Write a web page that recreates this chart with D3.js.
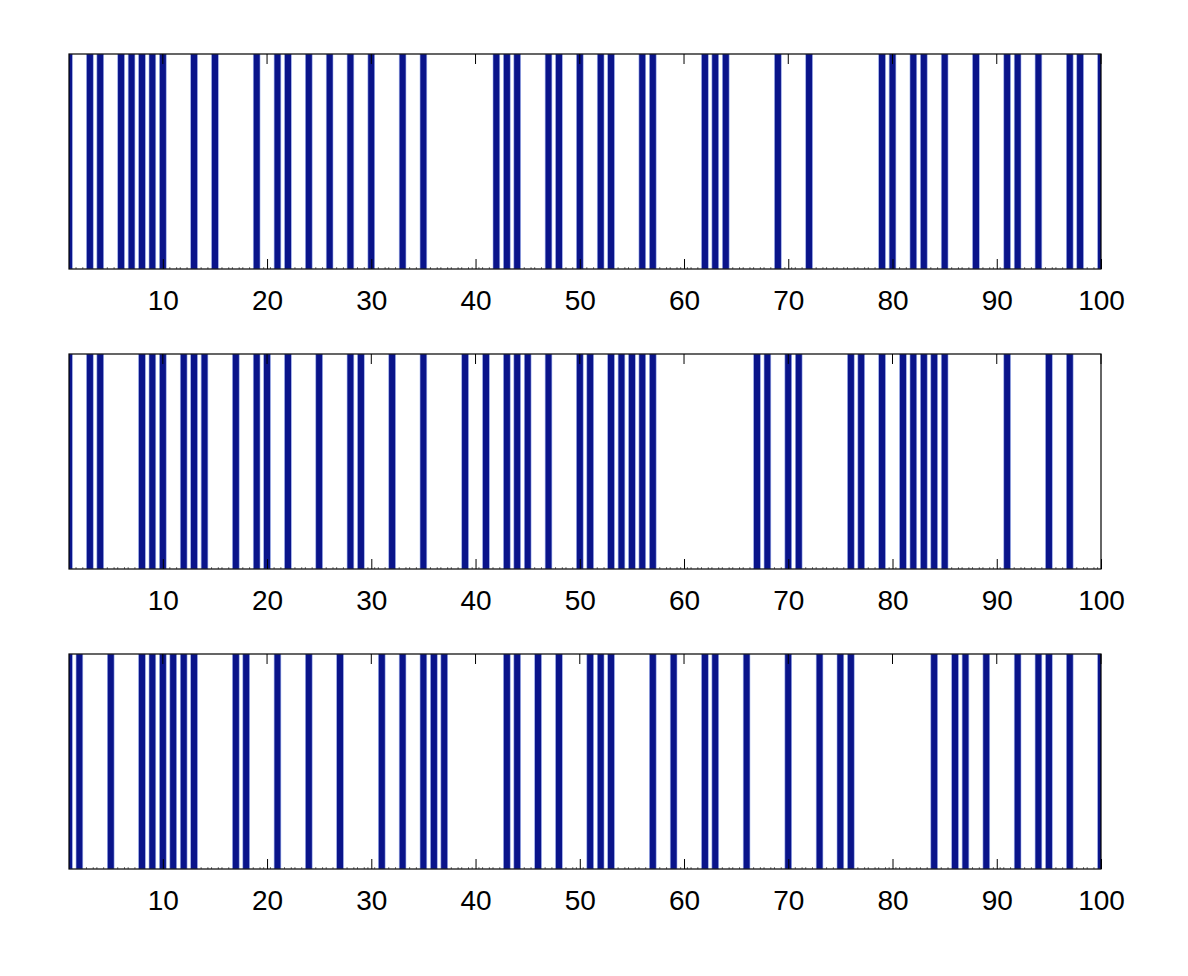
<!DOCTYPE html>
<head>
  <meta charset="utf-8">
  <script src="https://cdn.jsdelivr.net/npm/d3@7"></script>
  <style>
    body { margin:0; background:#fff; }
    text { font-family: "Liberation Sans", Arial, sans-serif; }
  </style>
</head>
<body>
<script>
// positions (1..100) where the series is 1, everything else is 0
var onTop    = [1,3,4,6,7,8,9,10,13,15,19,21,22,24,26,28,30,33,35,42,43,44,47,48,50,52,53,56,57,62,63,64,69,72,79,80,82,83,85,88,91,92,94,97,98,100];
var onMiddle = [1,3,4,8,9,10,12,13,14,17,19,20,22,25,28,29,32,35,39,41,43,44,45,47,50,51,53,54,55,56,57,67,68,70,71,76,77,79,81,82,83,84,85,91,95,97];
var onBottom = [1,2,5,8,9,10,11,12,13,17,18,21,24,27,31,33,35,36,37,43,44,46,48,51,52,53,57,59,62,63,66,70,73,75,76,84,86,87,89,92,94,95,97,100];
var xTicks = [10,20,30,40,50,60,70,80,90,100];

var width = 1188, height = 976;
var svg = d3.select("body").append("svg")
  .attr("width", width)
  .attr("height", height);

var left = 69, right = 1101;
var panelTops = [54, 354, 654];
var panelH = 215;
var barW = 0.65;

var x = d3.scaleLinear().domain([1, 100]).range([left, right]);

function toSeries(on) {
  var s = [];
  for (var i = 1; i <= 100; i++) s.push({x: i, y: on.indexOf(i) >= 0 ? 1 : 0});
  return s;
}

[onTop, onMiddle, onBottom].forEach(function(on, k) {
  var top = panelTops[k];
  var y = d3.scaleLinear().domain([0, 1]).range([top + panelH, top]);
  var data = toSeries(on);

  var g = svg.append("g");
  svg.append("clipPath").attr("id", "clip" + k)
    .append("rect")
    .attr("x", left).attr("y", top)
    .attr("width", right - left).attr("height", panelH);

  var bars = g.append("g").attr("clip-path", "url(#clip" + k + ")");

  // zero-height bars leave tiny edge marks on the baseline
  bars.selectAll("path.z")
    .data(data.filter(function(d) { return d.y === 0; }))
    .enter().append("path")
    .attr("d", function(d) {
      var a = x(d.x - barW / 2), b = x(d.x + barW / 2), b0 = y(0);
      return "M" + a + "," + b0 + "v-2M" + b + "," + b0 + "v-2";
    })
    .attr("stroke", "#555")
    .attr("stroke-width", 0.8);

  bars.selectAll("rect")
    .data(data.filter(function(d) { return d.y > 0; }))
    .enter().append("rect")
    .attr("x", function(d) { return x(d.x - barW / 2); })
    .attr("y", function(d) { return y(d.y); })
    .attr("width", x(1 + barW) - x(1))
    .attr("height", function(d) { return y(0) - y(d.y); })
    .attr("fill", "#0a148a")
    .attr("stroke", "#9fb2ee")
    .attr("stroke-width", 0.6);

  // bottom axis, ticks pointing inward
  var axis = g.append("g")
    .attr("transform", "translate(0," + (top + panelH) + ")")
    .call(d3.axisBottom(x).tickValues(xTicks).tickSize(-10).tickPadding(21).tickFormat(d3.format("d")));
  axis.select(".domain").remove();
  axis.selectAll("line").attr("stroke", "#000");
  axis.selectAll("text")
    .attr("font-size", 28)
    .attr("fill", "#000");

  // top ticks
  g.selectAll("line.tt")
    .data(xTicks)
    .enter().append("line")
    .attr("x1", function(d) { return x(d); })
    .attr("x2", function(d) { return x(d); })
    .attr("y1", top).attr("y2", top + 10)
    .attr("stroke", "#000");

  // axes box
  g.append("rect")
    .attr("x", left).attr("y", top)
    .attr("width", right - left).attr("height", panelH)
    .attr("fill", "none")
    .attr("stroke", "#000")
    .attr("stroke-width", 1.2);
});
</script>
</body>
